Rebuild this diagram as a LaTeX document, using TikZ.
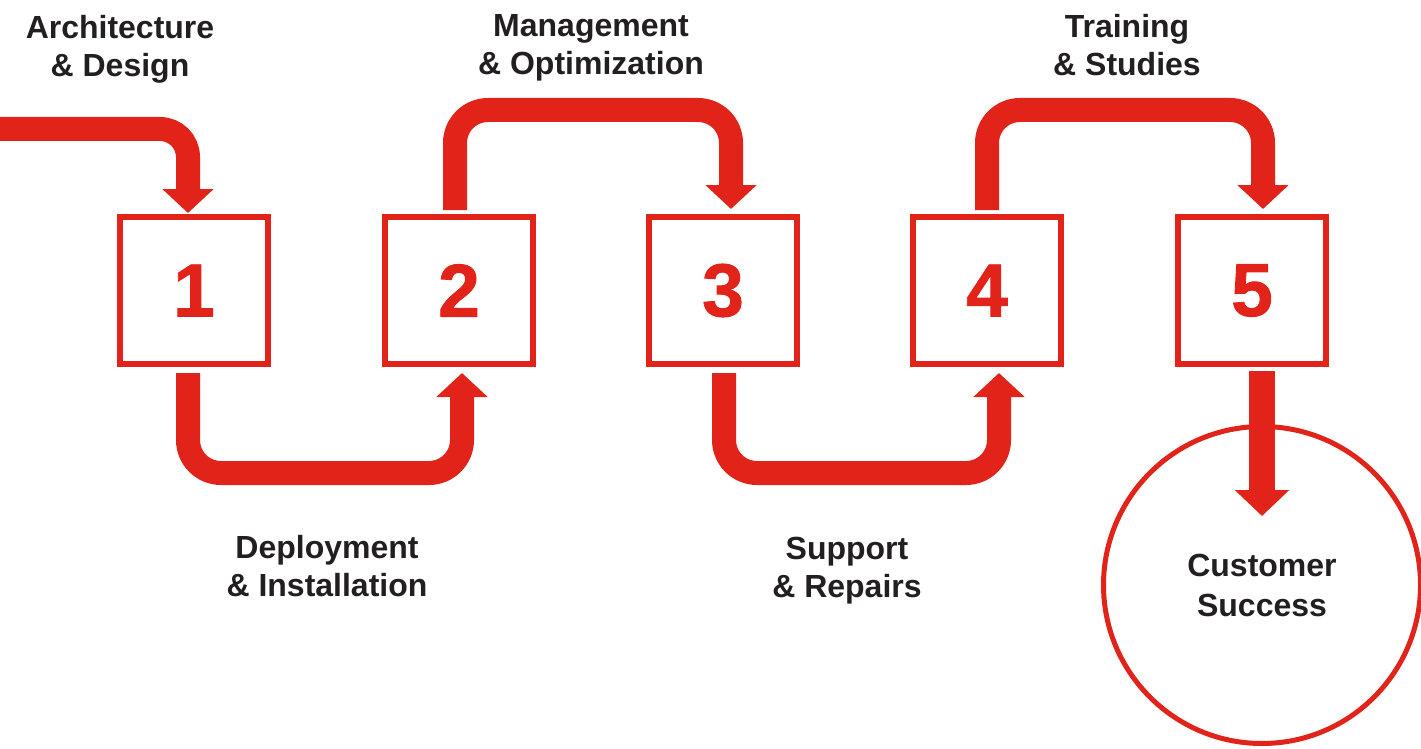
\documentclass[tikz,border=0pt]{standalone}
\usepackage{fontspec}
\setmainfont{Liberation Sans}
\newfontfamily\digitfont[FakeBold=1.2]{Liberation Sans Bold}
\usetikzlibrary{arrows.meta}
\definecolor{cred}{HTML}{E2231A}
\definecolor{ctext}{HTML}{231F20}
\begin{document}
\begin{tikzpicture}[x=1pt,y=-1pt,
  box/.style={draw=cred,line width=6pt,minimum width=148pt,minimum height=147pt,inner sep=0pt,text=cred,font=\digitfont\fontsize{75}{75}\selectfont},
  flow/.style={draw=cred,line width=24pt,rounded corners=33pt,-{Triangle[length=24pt,width=50pt]}},
  lbl/.style={text=ctext,font=\bfseries\fontsize{32}{38}\selectfont,align=center,anchor=base,inner sep=0pt},
  goal/.style={draw=cred,line width=5pt,circle,minimum size=317pt,inner sep=0pt,text=ctext,align=center,font=\bfseries\fontsize{32}{40}\selectfont},
]
\useasboundingbox (0,0) rectangle (1421,749);

\node[box] (b1) at (194,290.5) {\raisebox{-2.5pt}{1}};
\node[box] (b2) at (459,290.5) {\raisebox{-2.5pt}{2}};
\node[box] (b3) at (723,290.5) {\raisebox{-2.5pt}{3}};
\node[box] (b4) at (987,290.5) {\raisebox{-2.5pt}{4}};
\node[box] (b5) at (1252,290.5) {\raisebox{-2.5pt}{5}};

\node[goal] (cs) at (1262,585) {Customer\\Success};

\coordinate (s0) at (0,129);

\node[lbl] (tArch) at (120,77) {Architecture\\\& Design};
\node[lbl] (tMan) at (591,75) {Management\\\& Optimization};
\node[lbl] (tTrain) at (1127,76) {Training\\\& Studies};
\node[lbl] (tDep) at (327,596) {Deployment\\\& Installation};
\node[lbl] (tSup) at (847,597) {Support\\\& Repairs};

\draw[flow,rounded corners=28pt] (s0) -| ([xshift=-6pt,yshift=1pt]b1.north);
\draw[flow] ([xshift=-6pt,yshift=-6pt]b1.south) -- ++(0,100) -| ([xshift=3pt,yshift=-6pt]b2.south);
\draw[flow] ([xshift=-4pt,yshift=4pt]b2.north) -- ++(0,-100) -| ([xshift=8pt,yshift=5pt]b3.north);
\draw[flow] ([xshift=1pt,yshift=-6pt]b3.south) -- ++(0,100) -| ([xshift=12pt,yshift=-6pt]b4.south);
\draw[flow] ([yshift=4pt]b4.north) -- ++(0,-100) -| ([xshift=11pt,yshift=5pt]b5.north);
\draw[flow,line width=26pt,-{Triangle[length=26pt,width=53pt]}] ([xshift=10pt,yshift=-4pt]b5.south) -- ([yshift=69pt]cs.center);
\end{tikzpicture}
\end{document}
